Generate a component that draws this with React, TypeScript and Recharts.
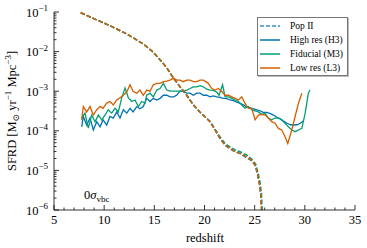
import React from 'react';
import { Customized, Legend, Line, LineChart, XAxis, YAxis } from 'recharts';

type Pt = [number, number];

const SERIF = '"Liberation Serif", "DejaVu Serif", serif';

const BLUE = '#0173b2';
const GREEN = '#029e73';
const ORANGE = '#d55e00';

// redshift / SFRD pairs
const popIIHigh: Pt[] = [
  [7.66, 9.6e-2], [8.92, 6.9e-2], [10.58, 4.5e-2], [12.25, 2.8e-2], [13.9, 1.55e-2],
  [14.87, 9.8e-3], [15.57, 6.2e-3], [16.24, 3.9e-3], [16.9, 2.15e-3], [17.56, 1.3e-3],
  [18.23, 7.9e-4], [18.89, 4.5e-4], [19.56, 2.95e-4], [20.55, 1.7e-4], [21.05, 1.05e-4],
  [21.55, 6.4e-5], [22.05, 4.3e-5], [22.55, 3.5e-5], [23.05, 2.95e-5], [23.55, 2.65e-5],
  [24.2, 2.1e-5], [24.7, 1.75e-5], [25.04, 1.35e-5], [25.27, 8.3e-6], [25.47, 4.6e-6],
  [25.6, 2.5e-6], [25.75, 5e-7],
];
const popIIFid: Pt[] = [
  [7.66, 9.6e-2], [8.92, 6.9e-2], [10.58, 4.5e-2], [12.25, 2.8e-2], [13.9, 1.55e-2],
  [14.87, 9.8e-3], [15.57, 6.2e-3], [16.24, 3.9e-3], [16.9, 2.15e-3], [17.56, 1.3e-3],
  [18.23, 7.9e-4], [18.89, 4.5e-4], [19.56, 2.95e-4], [20.55, 1.75e-4], [21.05, 1.1e-4],
  [21.55, 7.0e-5], [22.05, 4.8e-5], [22.55, 3.9e-5], [23.05, 3.3e-5], [23.55, 2.95e-5],
  [24.2, 2.45e-5], [24.7, 1.95e-5], [25.1, 1.45e-5], [25.35, 8.5e-6], [25.55, 4.7e-6],
  [25.68, 2.6e-6], [25.8, 5e-7],
];
const popIILow: Pt[] = [
  [7.66, 9.6e-2], [8.92, 6.9e-2], [10.58, 4.5e-2], [12.25, 2.8e-2], [13.9, 1.55e-2],
  [14.87, 9.8e-3], [15.57, 6.2e-3], [16.24, 3.9e-3], [16.9, 2.15e-3], [17.56, 1.3e-3],
  [18.23, 7.9e-4], [18.89, 4.5e-4], [19.56, 2.95e-4], [20.55, 1.7e-4], [21.05, 1.05e-4],
  [21.55, 6.5e-5], [22.05, 4.4e-5], [22.55, 3.6e-5], [23.05, 3.0e-5], [23.55, 2.7e-5],
  [24.2, 2.2e-5], [24.7, 1.8e-5], [25.04, 1.4e-5], [25.27, 8.5e-6], [25.47, 4.7e-6],
  [25.6, 2.6e-6], [25.75, 5e-7],
];

const highRes: Pt[] = [
  [7.76, 1.26e-4], [7.92, 2.3e-4], [8.26, 1.4e-4], [8.59, 2.1e-4], [8.92, 1.05e-4],
  [9.26, 1.7e-4], [9.59, 1.26e-4], [9.89, 1.9e-4], [10.25, 1.4e-4], [10.58, 2.3e-4],
  [10.91, 2.1e-4], [11.25, 3.0e-4], [11.58, 2.1e-4], [11.91, 3.4e-4], [12.25, 2.8e-4],
  [12.58, 3.7e-4], [12.88, 3.0e-4], [13.25, 4.1e-4], [13.57, 3.6e-4], [13.9, 4.1e-4],
  [14.24, 6.6e-4], [14.57, 5.5e-4], [14.9, 6.6e-4], [15.24, 6.0e-4], [15.57, 6.6e-4],
  [15.9, 7.9e-4], [16.24, 7.9e-4], [16.57, 7.2e-4], [16.9, 7.2e-4], [17.23, 7.9e-4],
  [17.56, 1.0e-3], [17.89, 1.0e-3], [18.23, 8.9e-4], [18.56, 8.9e-4], [18.89, 7.9e-4],
  [19.23, 8.9e-4], [19.56, 8.9e-4], [19.89, 7.9e-4], [20.22, 7.9e-4], [20.55, 7.2e-4],
  [20.88, 7.6e-4], [21.22, 7.2e-4], [21.55, 7.0e-4], [21.88, 6.6e-4], [22.22, 6.5e-4],
  [22.55, 6.0e-4], [22.88, 5.8e-4], [23.22, 5.3e-4], [23.55, 4.9e-4], [23.88, 4.5e-4],
  [24.22, 4.0e-4], [24.55, 3.8e-4], [24.88, 3.6e-4], [25.22, 3.4e-4], [25.55, 3.2e-4],
  [25.88, 2.9e-4], [26.22, 2.9e-4], [26.55, 2.7e-4], [26.88, 2.5e-4], [27.22, 2.2e-4],
  [27.55, 2.0e-4], [27.88, 1.75e-4], [28.22, 1.55e-4], [28.55, 1.42e-4], [28.88, 1.4e-4],
  [29.22, 1.42e-4], [29.55, 1.55e-4], [29.88, 1.8e-4],
];

const fiducial: Pt[] = [
  [7.76, 2.1e-4], [8.09, 2.8e-4], [8.42, 1.17e-4], [8.76, 2.5e-4], [9.09, 1.7e-4],
  [9.42, 2.5e-4], [9.76, 1.9e-4], [10.08, 2.5e-4], [10.41, 3.4e-4], [10.75, 2.8e-4],
  [11.08, 3.7e-4], [11.41, 3.0e-4], [11.75, 6.8e-4], [12.08, 1.2e-3], [12.41, 6.8e-4],
  [12.75, 5.5e-4], [13.08, 6.0e-4], [13.41, 4.1e-4], [13.74, 5.5e-4], [14.07, 5.0e-4],
  [14.24, 7.9e-4], [14.57, 8.9e-4], [14.9, 7.2e-4], [15.24, 1.07e-3], [15.57, 1.17e-3],
  [15.9, 1.58e-3], [16.24, 1.07e-3], [16.57, 1.0e-3], [16.9, 1.0e-3], [17.23, 1.0e-3],
  [17.56, 1.0e-3], [17.89, 1.0e-3], [18.23, 1.07e-3], [18.56, 1.17e-3], [18.89, 1.29e-3],
  [19.23, 1.29e-3], [19.56, 1.38e-3], [19.89, 1.29e-3], [20.22, 1.12e-3], [20.55, 1.07e-3],
  [20.88, 1.05e-3], [21.22, 9.5e-4], [21.45, 7.9e-4], [21.8, 1.45e-3], [22.05, 7.2e-4],
  [22.38, 7.2e-4], [22.72, 6.6e-4], [23.05, 6.0e-4], [23.38, 5.5e-4], [23.72, 4.5e-4],
  [24.04, 3.7e-4], [24.37, 4.1e-4], [24.71, 3.4e-4], [25.04, 3.2e-4], [25.37, 3.0e-4],
  [25.71, 2.6e-4], [26.04, 2.75e-4], [26.37, 2.1e-4], [26.7, 1.9e-4], [27.03, 2.1e-4],
  [27.36, 2.1e-4], [27.7, 1.9e-4], [28.03, 1.55e-4], [28.36, 1.26e-4], [28.7, 1.05e-4],
  [29.03, 9.5e-5], [29.36, 1.05e-4], [29.7, 1.15e-4], [30.03, 2.75e-4], [30.35, 8.9e-4],
  [30.52, 1.07e-3],
];

const lowRes: Pt[] = [
  [7.76, 1.9e-4], [7.92, 4.1e-4], [8.26, 3.0e-4], [8.59, 4.1e-4], [8.92, 2.5e-4],
  [9.26, 3.4e-4], [9.59, 4.1e-4], [9.89, 3.7e-4], [10.25, 5.0e-4], [10.58, 5.5e-4],
  [10.91, 4.5e-4], [11.25, 6.0e-4], [11.58, 6.8e-4], [11.91, 7.9e-4], [12.25, 9.5e-4],
  [12.58, 1.45e-3], [12.88, 1.0e-3], [13.25, 8.9e-4], [13.57, 1.07e-3], [13.9, 7.9e-4],
  [14.24, 1.07e-3], [14.57, 1.0e-3], [14.9, 1.45e-3], [15.24, 1.58e-3], [15.57, 1.58e-3],
  [15.9, 1.74e-3], [16.24, 1.8e-3], [16.57, 1.9e-3], [16.9, 2.14e-3], [17.23, 1.9e-3],
  [17.56, 1.9e-3], [17.89, 1.74e-3], [18.23, 1.9e-3], [18.56, 1.9e-3], [18.89, 1.74e-3],
  [19.23, 1.74e-3], [19.56, 1.9e-3], [19.89, 1.9e-3], [20.38, 1.58e-3], [20.72, 1.17e-3],
  [21.05, 1.07e-3], [21.38, 1.17e-3], [21.72, 9.8e-4], [22.05, 7.9e-4], [22.38, 7.9e-4],
  [22.72, 7.2e-4], [23.05, 6.6e-4], [23.38, 6.0e-4], [23.72, 7.2e-4], [24.04, 4.9e-4],
  [24.37, 3.7e-4], [24.71, 3.7e-4], [25.04, 1.9e-4], [25.37, 2.5e-4], [25.71, 2.6e-4],
  [26.04, 2.5e-4], [26.37, 2.1e-4], [26.7, 1.7e-4], [27.03, 1.55e-4], [27.36, 1.15e-4],
  [27.7, 1.05e-4], [28.03, 7.1e-5], [28.3, 4.8e-5], [28.7, 1.05e-4], [29.03, 2.3e-4],
  [29.36, 4.9e-4], [29.7, 8.9e-4],
];

const xMajorTicks = [5, 10, 15, 20, 25, 30, 35];
const xTicks = Array.from({ length: 31 }, (_, i) => 5 + i);
const yMajorTicks = [1e-6, 1e-5, 1e-4, 1e-3, 1e-2, 1e-1];
const yTicks = [
  ...yMajorTicks.slice(0, -1).flatMap((d) => [1, 2, 3, 4, 5, 6, 7, 8, 9].map((k) => d * k)),
  1e-1,
];

const legendItems = [
  { label: 'Pop II', color: '#3a8fd0', dashed: true },
  { label: 'High res (H3)', color: BLUE, dashed: false },
  { label: 'Fiducial (M3)', color: GREEN, dashed: false },
  { label: 'Low res (L3)', color: ORANGE, dashed: false },
];

const toRows = (pts: Pt[]) => pts.map(([z, sfrd]) => ({ z, sfrd }));

const isMajorY = (v: number) => {
  const l = Math.log10(v);
  return Math.abs(l - Math.round(l)) < 1e-6;
};

const XTickBottom = ({ x, y, payload }: any) => {
  const major = xMajorTicks.includes(payload.value);
  return (
    <g>
      <line x1={x} x2={x} y1={y} y2={y - (major ? 5 : 2.5)} stroke="#000" strokeWidth={0.8} />
      {major && (
        <text x={x} y={y + 14} textAnchor="middle" fontSize={12.5} fontFamily={SERIF} fill="#000">
          {payload.value}
        </text>
      )}
    </g>
  );
};

const XTickTop = ({ x, y, payload }: any) => {
  const major = xMajorTicks.includes(payload.value);
  return <line x1={x} x2={x} y1={y} y2={y + (major ? 5 : 2.5)} stroke="#000" strokeWidth={0.8} />;
};

const YTickLeft = ({ x, y, payload }: any) => {
  const major = isMajorY(payload.value);
  const exp = Math.round(Math.log10(payload.value));
  return (
    <g>
      <line x1={x} x2={x + (major ? 5 : 2.5)} y1={y} y2={y} stroke="#000" strokeWidth={0.8} />
      {major && (
        <text x={x - 6} y={y + 4.5} textAnchor="end" fontSize={12.5} fontFamily={SERIF} fill="#000">
          10
          <tspan dy={-5.5} fontSize={9}>
            {'\u2212' + Math.abs(exp)}
          </tspan>
        </text>
      )}
    </g>
  );
};

const YTickRight = ({ x, y, payload }: any) => {
  const major = isMajorY(payload.value);
  return <line x1={x} x2={x - (major ? 5 : 2.5)} y1={y} y2={y} stroke="#000" strokeWidth={0.8} />;
};

const Annotations = () => (
  <g fontFamily={SERIF} fill="#000">
    <text transform="translate(16,111) rotate(-90)" textAnchor="middle" fontSize={12.5}>
      SFRD [M
      <tspan dy={3} fontSize={9}>⊙</tspan>
      <tspan dy={-3}> yr</tspan>
      <tspan dy={-5} fontSize={9}>−1</tspan>
      <tspan dy={5}> Mpc</tspan>
      <tspan dy={-5} fontSize={9}>−3</tspan>
      <tspan dy={5}>]</tspan>
    </text>
    <text x={84} y={199} fontSize={12.5}>
      0<tspan fontStyle="italic">σ</tspan>
      <tspan dy={3} fontSize={9}>vbc</tspan>
    </text>
    <text x={205} y={242} textAnchor="middle" fontSize={12.5}>
      redshift
    </text>
  </g>
);

const LegendBox = () => (
  <div
    style={{
      background: '#fff',
      border: '1px solid #777',
      boxShadow: '1px 1px 0 #bbb',
      padding: '1px 4px 0 2px',
      fontFamily: SERIF,
      fontSize: 9.5,
      color: '#000',
    }}
  >
    {legendItems.map((item) => (
      <div key={item.label} style={{ display: 'flex', alignItems: 'center', height: 14 }}>
        <svg width={20} height={4} style={{ marginRight: 10 }}>
          <line
            x1={0}
            x2={20}
            y1={2}
            y2={2}
            stroke={item.color}
            strokeWidth={1.5}
            strokeDasharray={item.dashed ? '4 2' : undefined}
          />
        </svg>
        <span style={{ whiteSpace: 'nowrap' }}>{item.label}</span>
      </div>
    ))}
  </div>
);

const App: React.FC = () => {
  const series = [
    { key: 'pHigh', data: popIIHigh, color: BLUE, dashed: true },
    { key: 'high', data: highRes, color: BLUE, dashed: false },
    { key: 'pFid', data: popIIFid, color: GREEN, dashed: true },
    { key: 'fid', data: fiducial, color: GREEN, dashed: false },
    { key: 'pLow', data: popIILow, color: ORANGE, dashed: true },
    { key: 'low', data: lowRes, color: ORANGE, dashed: false },
  ];

  return (
    <div style={{ position: 'absolute', left: 0, top: 0, background: '#fff' }}>
      <LineChart width={367} height={248} margin={{ top: 12, right: 12, left: 0, bottom: 0 }}>
        <XAxis
          dataKey="z"
          type="number"
          domain={[5, 35]}
          ticks={xTicks}
          interval={0}
          allowDataOverflow
          height={38}
          tickSize={0}
          tickMargin={0}
          tickLine={false}
          axisLine={{ stroke: '#000', strokeWidth: 0.8 }}
          tick={<XTickBottom />}
        />
        <XAxis
          xAxisId="top"
          orientation="top"
          dataKey="z"
          type="number"
          domain={[5, 35]}
          ticks={xTicks}
          interval={0}
          allowDataOverflow
          height={0}
          tickSize={0}
          tickMargin={0}
          tickLine={false}
          axisLine={{ stroke: '#000', strokeWidth: 0.8 }}
          tick={<XTickTop />}
        />
        <YAxis
          type="number"
          scale="log"
          domain={[1e-6, 1e-1]}
          ticks={yTicks}
          interval={0}
          allowDataOverflow
          width={54}
          tickSize={0}
          tickMargin={0}
          tickLine={false}
          axisLine={{ stroke: '#000', strokeWidth: 0.8 }}
          tick={<YTickLeft />}
        />
        <YAxis
          yAxisId="right"
          orientation="right"
          type="number"
          scale="log"
          domain={[1e-6, 1e-1]}
          ticks={yTicks}
          interval={0}
          allowDataOverflow
          width={0}
          tickSize={0}
          tickMargin={0}
          tickLine={false}
          axisLine={{ stroke: '#000', strokeWidth: 0.8 }}
          tick={<YTickRight />}
        />
        {series.map((s) => (
          <Line
            key={s.key}
            data={toRows(s.data)}
            dataKey="sfrd"
            type="linear"
            stroke={s.color}
            strokeWidth={s.dashed ? 1.5 : 1.3}
            strokeDasharray={s.dashed ? '4.5 2' : undefined}
            dot={false}
            activeDot={false}
            isAnimationActive={false}
          />
        ))}
        <Legend
          layout="horizontal"
          verticalAlign="middle"
          content={<LegendBox />}
          wrapperStyle={{ left: 257, top: 17, width: 'auto' }}
        />
        <Customized component={<Annotations />} />
      </LineChart>
    </div>
  );
};

export default App;
